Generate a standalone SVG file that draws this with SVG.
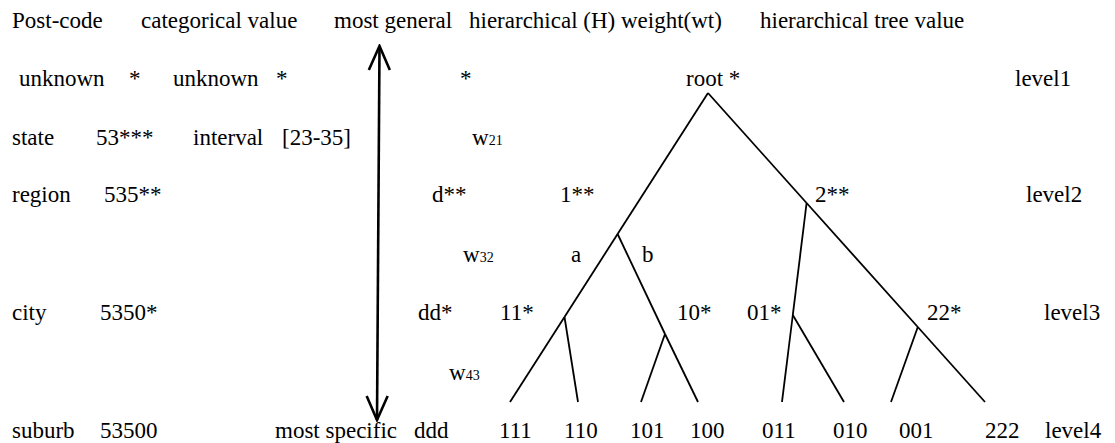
<svg xmlns="http://www.w3.org/2000/svg" width="1115" height="443" viewBox="0 0 1115 443">
<style>
text { font-family: "Liberation Serif", "Times New Roman", serif; font-size: 23px; fill: #000; }
.sub { font-size: 14px; }
.edge { stroke: #000; stroke-width: 1.8; fill: none; }
.arrow { stroke: #000; stroke-width: 2.6; fill: none; }
</style>
<defs>
<marker id="head" markerUnits="userSpaceOnUse" viewBox="0 0 28 24" refX="26" refY="12" markerWidth="28" markerHeight="24" orient="auto-start-reverse">
<path d="M2,1.5 L26,12 L2,22.5" fill="none" stroke="#000" stroke-width="2.6"/>
</marker>
</defs>
<rect width="1115" height="443" fill="#fff"/>
<g id="header">
<text x="12" y="28">Post-code</text>
<text x="141" y="28">categorical value</text>
<text x="334" y="28">most general</text>
<text x="469" y="28">hierarchical (H) weight(wt)</text>
<text x="760" y="28">hierarchical tree value</text>
</g>
<g id="row-unknown">
<text x="19" y="86">unknown</text>
<text x="129" y="86">*</text>
<text x="173" y="86">unknown</text>
<text x="276" y="86">*</text>
<text x="460" y="86">*</text>
</g>
<g id="row-state">
<text x="12" y="145">state</text>
<text x="96" y="145">53***</text>
<text x="193" y="145">interval</text>
<text x="282" y="145">[23-35]</text>
<text x="472" y="145">w<tspan class="sub">21</tspan></text>
</g>
<g id="row-region">
<text x="12" y="202">region</text>
<text x="104" y="202">535**</text>
<text x="432" y="202">d**</text>
</g>
<g id="w32"><text x="463" y="262">w<tspan class="sub">32</tspan></text></g>
<g id="row-city">
<text x="12" y="320">city</text>
<text x="100" y="320">5350*</text>
<text x="418" y="320">dd*</text>
</g>
<g id="w43"><text x="449" y="380">w<tspan class="sub">43</tspan></text></g>
<g id="row-suburb">
<text x="12" y="438">suburb</text>
<text x="100" y="438">53500</text>
<text x="275" y="438">most specific</text>
<text x="414" y="438">ddd</text>
</g>
<g id="levels">
<text x="1015" y="86">level1</text>
<text x="1026" y="202">level2</text>
<text x="1044" y="320">level3</text>
<text x="1045" y="438">level4</text>
</g>
<g id="node-root"><text x="686" y="86">root *</text></g>
<g id="node-1"><text x="560" y="202">1**</text></g>
<g id="node-2"><text x="815" y="202">2**</text></g>
<g id="edge-labels"><text x="571" y="262">a</text><text x="642" y="262">b</text></g>
<g id="node-11"><text x="500" y="320">11*</text></g>
<g id="node-10"><text x="677" y="320">10*</text></g>
<g id="node-01"><text x="747" y="320">01*</text></g>
<g id="node-22"><text x="927" y="320">22*</text></g>
<g id="leaf-111"><text x="499" y="438">111</text></g>
<g id="leaf-110"><text x="564" y="438">110</text></g>
<g id="leaf-101"><text x="630" y="438">101</text></g>
<g id="leaf-100"><text x="690" y="438">100</text></g>
<g id="leaf-011"><text x="762" y="438">011</text></g>
<g id="leaf-010"><text x="833" y="438">010</text></g>
<g id="leaf-001"><text x="899" y="438">001</text></g>
<g id="leaf-222"><text x="985" y="438">222</text></g>
<g id="connectors">
<line class="arrow" x1="379.5" y1="46" x2="377" y2="420" marker-start="url(#head)" marker-end="url(#head)"/>
<line class="edge" x1="708" y1="93" x2="617.6" y2="234"/>
<line class="edge" x1="617.6" y1="234" x2="564.5" y2="317"/>
<line class="edge" x1="564.5" y1="317" x2="510" y2="402"/>
<line class="edge" x1="564.5" y1="317" x2="578" y2="402"/>
<line class="edge" x1="617.6" y1="234" x2="665" y2="334"/>
<line class="edge" x1="665" y1="334" x2="641" y2="402"/>
<line class="edge" x1="665" y1="334" x2="698" y2="402"/>
<line class="edge" x1="708" y1="93" x2="806.6" y2="203"/>
<line class="edge" x1="806.6" y1="203" x2="792.8" y2="315"/>
<line class="edge" x1="792.8" y1="315" x2="782" y2="402"/>
<line class="edge" x1="792.8" y1="315" x2="844" y2="402"/>
<line class="edge" x1="806.6" y1="203" x2="917.8" y2="327"/>
<line class="edge" x1="917.8" y1="327" x2="891" y2="402"/>
<line class="edge" x1="917.8" y1="327" x2="985" y2="402"/>
</g>
</svg>
